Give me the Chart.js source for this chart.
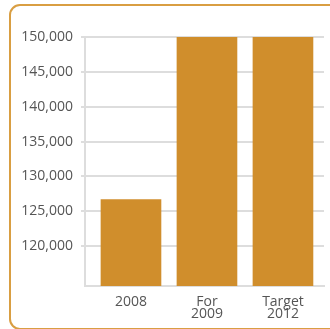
<!DOCTYPE html>
<html>
<head>
<meta charset="utf-8">
<script src="https://cdn.jsdelivr.net/npm/chart.js@4"></script>
<style>
  html, body { margin: 0; padding: 0; background: #fff; overflow: hidden; }
  #wrap { position: relative; width: 330px; height: 329px; overflow: hidden; }
  #frame {
    position: absolute; left: 9px; top: 4px; width: 400px; height: 322px;
    border: 2px solid #D99E42; border-radius: 11px;
  }
  #chartBox { position: absolute; left: 0; top: 0; width: 330px; height: 329px; }
</style>
</head>
<body>
<div id="wrap">
  <div id="frame"></div>
  <div id="chartBox"><canvas id="fundChart" width="330" height="329"></canvas></div>
</div>
<script>
// Chart data
const categories = [['2008'], ['For', '2009'], ['Target', '2012']];
const values = [126700, 150000, 150000];
const yTicks = [120000, 125000, 130000, 135000, 140000, 145000, 150000];

const barColor = '#D08E2C';
const gridColor = '#DDDDDD';
const textColor = '#555555';

const ctx = document.getElementById('fundChart').getContext('2d');

// bars sit on a numeric x axis (0, 1, 2) so the spacing matches the original
const points = values.map((v, i) => ({ x: i, y: v }));

const fundChart = new Chart(ctx, {
  type: 'bar',
  data: {
    datasets: [{
      data: points,
      backgroundColor: barColor,
      borderWidth: 0,
      barThickness: 60
    }]
  },
  options: {
    responsive: false,
    animation: false,
    layout: { padding: { top: 37, right: 6, left: 0, bottom: 0 } },
    plugins: {
      legend: { display: false },
      tooltip: { enabled: false }
    },
    scales: {
      y: {
        min: 114300,
        max: 150000,
        afterBuildTicks: function (scale) {
          scale.ticks = yTicks.map(v => ({ value: v }));
        },
        afterFit: function (scale) { scale.width = 85; },
        grid: { color: gridColor, lineWidth: 2, tickLength: 4 },
        border: { color: gridColor, width: 2 },
        ticks: {
          color: textColor,
          padding: 8,
          font: { family: 'Open Sans', size: 14 },
          callback: v => v.toLocaleString('en-US')
        }
      },
      x: {
        type: 'linear',
        offset: false,
        min: -0.605,
        max: 2.54,
        afterBuildTicks: function (scale) {
          scale.ticks = categories.map((c, i) => ({ value: i }));
        },
        afterFit: function (scale) { scale.height = 43; },
        grid: { display: false },
        border: { color: gridColor, width: 2 },
        ticks: {
          color: textColor,
          padding: 2,
          font: { family: 'Open Sans', size: 14, lineHeight: 0.86 },
          callback: v => categories[v]
        }
      }
    }
  }
});
</script>
</body>
</html>
